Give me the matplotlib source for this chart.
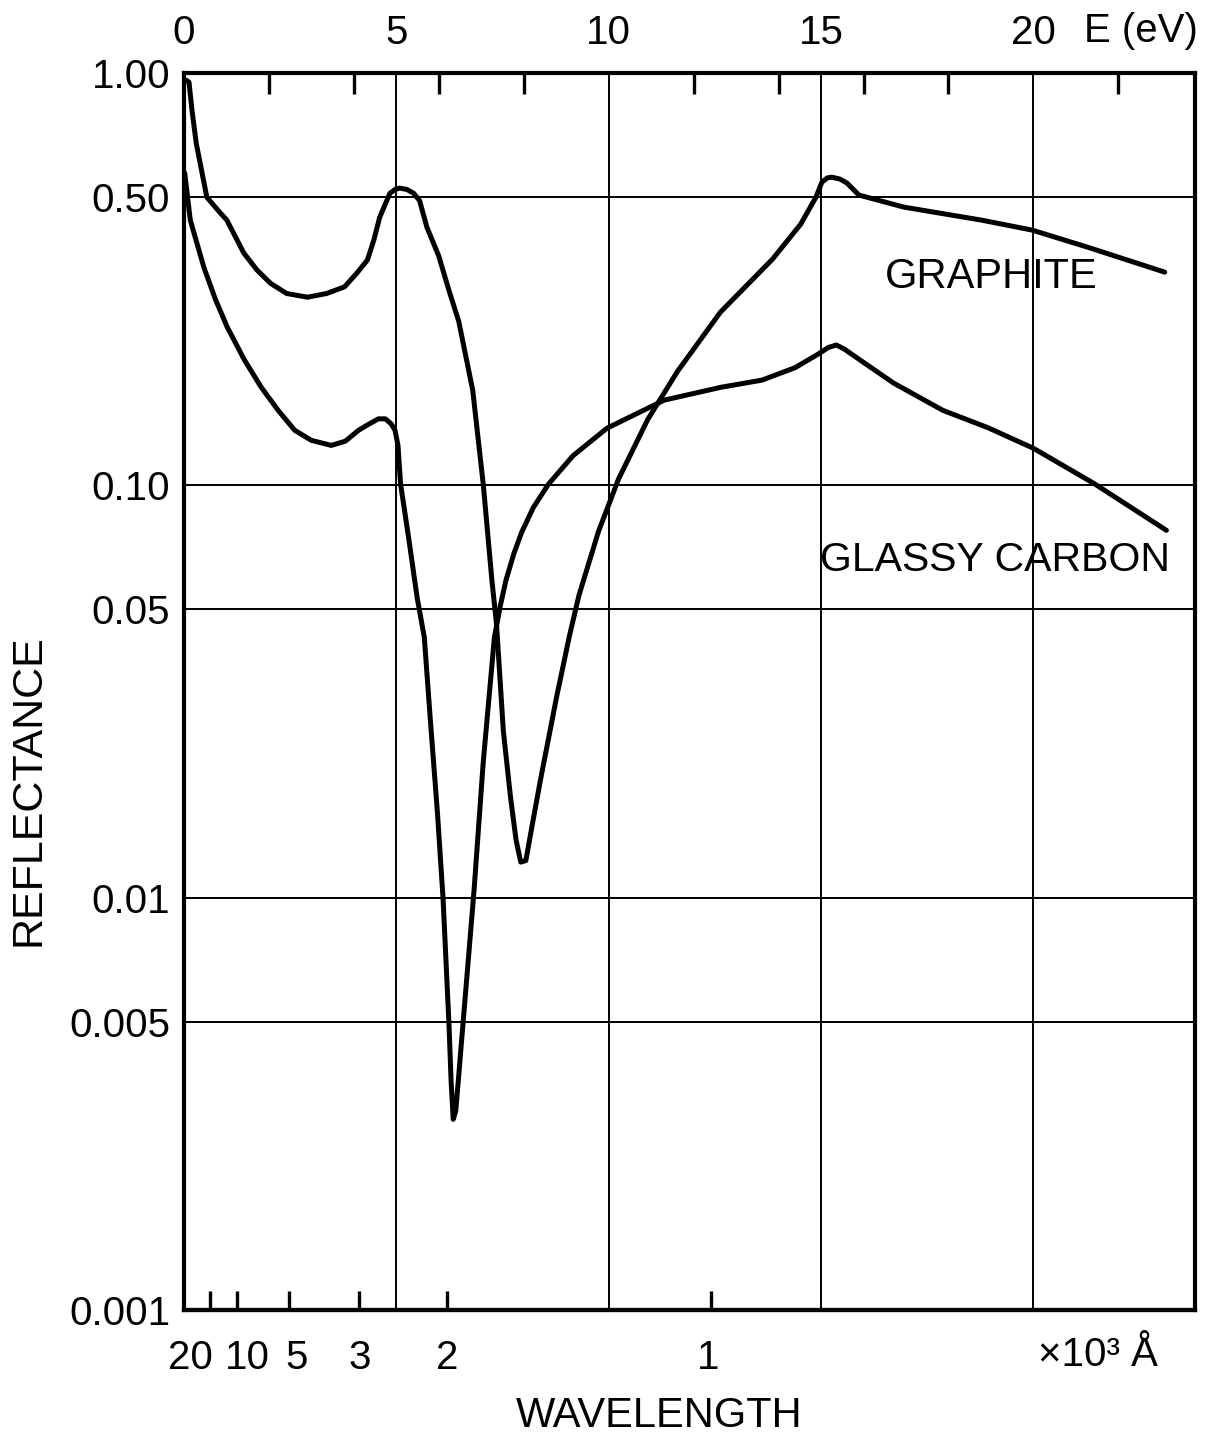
import matplotlib
matplotlib.use("Agg")
import matplotlib.pyplot as plt
import matplotlib.transforms as mtransforms
import numpy as np

plt.rcParams['font.family'] = ['Liberation Sans', 'DejaVu Sans']

# photon energy (eV) and reflectance
graphite_e = [0.06, 0.12, 0.19, 0.29, 0.54, 0.84, 1.01, 1.41, 1.72, 2.04, 2.42,
              2.91, 3.36, 3.78, 4.07, 4.32, 4.47, 4.61, 4.85, 4.97, 5.08, 5.25,
              5.41, 5.55, 5.72, 6.00, 6.24, 6.47, 6.80, 7.05, 7.25, 7.36, 7.52,
              7.69, 7.82, 7.93, 8.05, 8.20, 8.39, 8.78, 9.08, 9.30, 9.76, 10.23,
              10.92, 11.62, 12.63, 13.86, 14.52, 14.88, 15.02, 15.15, 15.26,
              15.45, 15.61, 15.89, 16.95, 18.77, 19.97, 21.28, 23.09]
graphite_r = [0.96, 0.95, 0.813, 0.676, 0.50, 0.46, 0.44, 0.366, 0.333, 0.309,
              0.292, 0.286, 0.292, 0.303, 0.327, 0.352, 0.393, 0.447, 0.511,
              0.522, 0.526, 0.522, 0.511, 0.49, 0.423, 0.36, 0.297, 0.25, 0.17,
              0.10, 0.059, 0.046, 0.0254, 0.0175, 0.0138, 0.0122, 0.0123,
              0.0150, 0.0192, 0.0309, 0.0433, 0.0541, 0.0773, 0.1035, 0.1445,
              0.189, 0.263, 0.354, 0.430, 0.50, 0.544, 0.557, 0.559, 0.553,
              0.541, 0.506, 0.473, 0.44, 0.416, 0.378, 0.329]

glassy_e = [0.02, 0.15, 0.47, 0.74, 1.02, 1.43, 1.82, 2.22, 2.61, 3.00, 3.47,
            3.80, 4.11, 4.35, 4.58, 4.74, 4.88, 4.97, 5.04, 5.10, 5.30, 5.49,
            5.66, 5.79, 5.97, 6.10, 6.24, 6.29, 6.34, 6.40, 6.46, 6.57, 6.83,
            7.05, 7.31, 7.45, 7.58, 7.77, 7.95, 8.23, 8.58, 9.16, 9.96, 11.31,
            12.65, 13.61, 14.39, 14.96, 15.17, 15.36, 15.55, 15.93, 16.71,
            17.87, 18.93, 20.00, 21.43, 23.13]
glassy_r = [0.572, 0.44, 0.338, 0.283, 0.242, 0.201, 0.173, 0.152, 0.136,
            0.1286, 0.125, 0.128, 0.136, 0.1407, 0.145, 0.145, 0.141, 0.136,
            0.125, 0.101, 0.0735, 0.0535, 0.0428, 0.028, 0.016, 0.010, 0.00494,
            0.0036, 0.0029, 0.00304, 0.0036, 0.00494, 0.0104, 0.0215, 0.0428,
            0.0511, 0.0588, 0.0684, 0.0769, 0.0885, 0.1006, 0.118, 0.1376,
            0.161, 0.173, 0.180, 0.193, 0.209, 0.216, 0.219, 0.214, 0.201,
            0.177, 0.152, 0.138, 0.123, 0.101, 0.0778]

energy_ticks = [0, 5, 10, 15, 20]
energy_minor = [2, 4, 6, 8, 12, 14, 16, 18, 22]
refl_ticks = [1.0, 0.5, 0.1, 0.05, 0.01, 0.005, 0.001]
refl_labels = ["1.00", "0.50", "0.10", "0.05", "0.01", "0.005", "0.001"]
wavelength_k = [20, 10, 5, 3, 2, 1]          # x 10^3 Angstrom
wavelength_labels = ["20", "10", "5", "3", "2", "1"]
HC = 12.398                                    # eV * 10^3 Angstrom

# label centres (eV) for the crowded wavelength labels
wl_label_x = [0.15, 1.5, 2.65, 4.15, 6.2, 12.35]

fig = plt.figure(figsize=(12.26, 14.41), dpi=100)
ax = fig.add_axes([0.150, 0.0909, 0.8246, 0.8584])

for e, r in [(graphite_e, graphite_r), (glassy_e, glassy_r)]:
    ax.plot(e, r, color='black', lw=3.6, solid_capstyle='round',
            solid_joinstyle='round', zorder=3)

ax.set_yscale('log')
ax.set_xlim(0, 23.8)
ax.set_ylim(0.001, 1.0)

ax.set_yticks(refl_ticks)
ax.set_yticklabels(refl_labels)
ax.yaxis.set_minor_locator(matplotlib.ticker.NullLocator())
ax.tick_params(axis='y', length=0, pad=10, labelsize=29)

ax.set_xticks(energy_ticks)
ax.set_xticks(energy_minor, minor=True)
ax.tick_params(axis='x', which='both', bottom=False, labelbottom=False,
               top=True, labeltop=True)
ax.tick_params(axis='x', which='major', length=0, pad=15, labelsize=29)
ax.tick_params(axis='x', which='minor', direction='in', length=15, width=2.4)

ax.grid(True, which='major', color='black', lw=1.4)
for s in ax.spines.values():
    s.set_linewidth(3)

# wavelength scale along the bottom
sec = ax.secondary_xaxis('bottom')
sec.set_xticks([HC / w for w in wavelength_k])
sec.set_xticklabels([])
sec.tick_params(direction='in', length=14, width=2.4)
sec.spines['bottom'].set_linewidth(3)

trans = mtransforms.blended_transform_factory(ax.transData, ax.transAxes)
for xl, lab in zip(wl_label_x, wavelength_labels):
    ax.text(xl, -0.039, lab, transform=trans, ha='center', va='center',
            fontsize=29)
ax.text(20.1, -0.036, "×10³ Å", transform=trans, ha='left', va='center',
        fontsize=29)

fig.text(1084 / 1226, 1 - 31 / 1441, "E (eV)", ha='left', va='center',
         fontsize=29)
fig.text(0.538, 0.0173, "WAVELENGTH", ha='center', va='center', fontsize=30)
fig.text(0.023, 0.452, "REFLECTANCE", ha='center', va='center',
         rotation=90, fontsize=31)

ax.text(19.0, 0.320, "GRAPHITE", ha='center', va='center', fontsize=30)
ax.text(19.1, 0.0658, "GLASSY CARBON", ha='center', va='center', fontsize=29.5)

fig.savefig("out.png", dpi=100)
